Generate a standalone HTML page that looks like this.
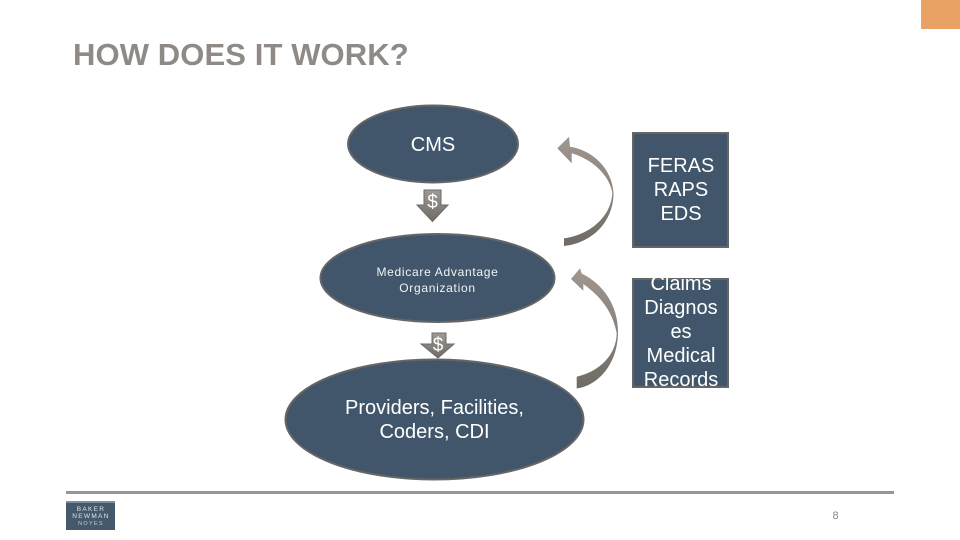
<!DOCTYPE html>
<html>
<head>
<meta charset="utf-8">
<style>
html,body{margin:0;padding:0;background:#fff;width:960px;height:540px;overflow:hidden}
svg{display:block}
text{font-family:"Liberation Sans",sans-serif}
</style>
</head>
<body>
<svg width="960" height="540" viewBox="0 0 960 540" xmlns="http://www.w3.org/2000/svg">
<defs>
<linearGradient id="g1" x1="0" y1="0" x2="0" y2="1"><stop offset="0" stop-color="#a0978f"/><stop offset="0.5" stop-color="#8a827c"/><stop offset="1" stop-color="#6f6a64"/></linearGradient>
<linearGradient id="g2" x1="0" y1="0" x2="0" y2="1"><stop offset="0" stop-color="#a09a95"/><stop offset="1" stop-color="#6f6a65"/></linearGradient>
</defs>
<rect x="921" y="0" width="39" height="29" fill="#e9a263"/>
<text x="73" y="65" font-size="31" font-weight="bold" letter-spacing="0.1" fill="#8f8a85">HOW DOES IT WORK?</text>

<ellipse cx="433" cy="144" rx="85" ry="38.500" fill="#41566a" stroke="#666" stroke-width="2"/>
<text x="433" y="151" font-size="20" fill="#fff" text-anchor="middle">CMS</text>

<path d="M424 190H441V205H448L432.500 221.500L417 205H424Z" fill="url(#g2)" stroke="#6b6b6b" stroke-width="1"/>
<text x="432.500" y="208" font-size="19" fill="#fff" text-anchor="middle">$</text>

<ellipse cx="437.500" cy="278" rx="117" ry="44" fill="#41566a" stroke="#666" stroke-width="2"/>
<text x="437.500" y="276" font-size="12" letter-spacing="0.7" fill="#f2f4f5" text-anchor="middle">Medicare Advantage</text>
<text x="437.500" y="292" font-size="12" letter-spacing="0.7" fill="#f2f4f5" text-anchor="middle">Organization</text>

<path d="M432 333H446V344H454L438 358L421 344H432Z" fill="url(#g2)" stroke="#6b6b6b" stroke-width="1"/>
<text x="438" y="351" font-size="19" fill="#fff" text-anchor="middle">$</text>

<ellipse cx="434.500" cy="419.500" rx="149" ry="60" fill="#41566a" stroke="#666" stroke-width="2"/>
<text x="434.500" y="414" font-size="20" fill="#fff" text-anchor="middle">Providers, Facilities,</text>
<text x="434.500" y="438" font-size="20" fill="#fff" text-anchor="middle">Coders, CDI</text>

<path d="M557.300 148.300L569 136.700L570 146.700C592 150 612 168 613.500 193C613.500 222 592 243 564 246L564 238.300C590 235 612 216 612.300 192C609 176 594 160 571.700 153.300L571.700 163.300Z" fill="url(#g1)"/>
<path d="M571 279L580 268.300L581.700 273.500C603 284 618 305 618 332C618 362 600 385 576.700 388.500L576.700 376.700C598 372 616.500 356 616.700 333C613 314 603 298 583.300 284L583.300 290.700Z" fill="url(#g1)"/>

<rect x="633" y="133" width="95" height="114" fill="#41566a" stroke="#666" stroke-width="2"/>
<text x="681" y="172" font-size="20" fill="#fff" text-anchor="middle">FERAS</text>
<text x="681" y="196" font-size="20" fill="#fff" text-anchor="middle">RAPS</text>
<text x="681" y="220" font-size="20" fill="#fff" text-anchor="middle">EDS</text>

<rect x="633" y="279" width="95" height="108" fill="#41566a" stroke="#666" stroke-width="2"/>
<text x="681" y="290" font-size="20" fill="#fff" text-anchor="middle">Claims</text>
<text x="681" y="314" font-size="20" fill="#fff" text-anchor="middle">Diagnos</text>
<text x="681" y="338" font-size="20" fill="#fff" text-anchor="middle">es</text>
<text x="681" y="362" font-size="20" fill="#fff" text-anchor="middle">Medical</text>
<text x="681" y="386" font-size="20" fill="#fff" text-anchor="middle">Records</text>

<rect x="66" y="491" width="828" height="3" fill="#999590"/>
<rect x="66" y="501" width="49" height="29" fill="#45596c"/>
<rect x="66" y="501.500" width="49" height="1" fill="#b9c2ca"/>
<text x="91" y="511" font-size="6.500" letter-spacing="1.300" fill="#dfe4e8" text-anchor="middle">BAKER</text>
<text x="91" y="518" font-size="6.500" letter-spacing="1.300" fill="#dfe4e8" text-anchor="middle">NEWMAN</text>
<text x="91" y="525" font-size="5.500" letter-spacing="1.300" fill="#c3cbd2" text-anchor="middle">NOYES</text>

<text x="835.500" y="519" font-size="11" fill="#8b8580" text-anchor="middle">8</text>
</svg>
</body>
</html>
